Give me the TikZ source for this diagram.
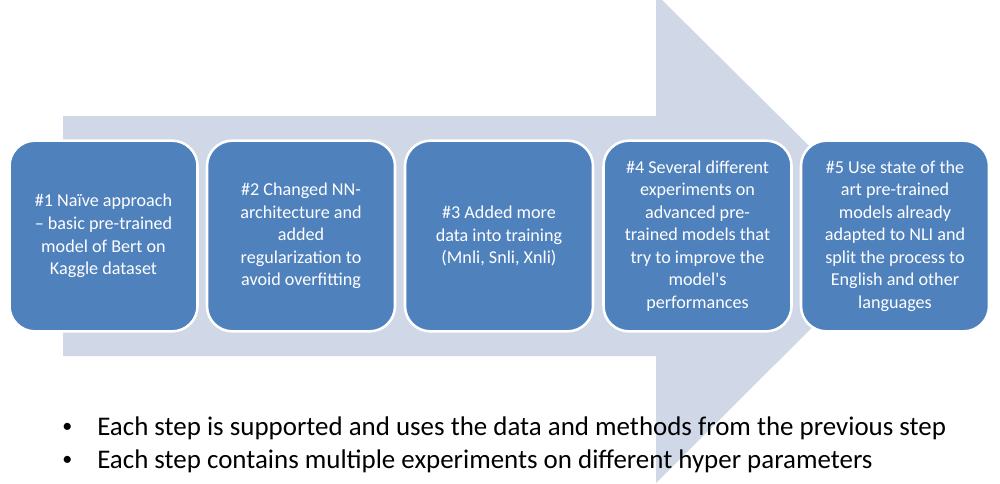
\documentclass[tikz,border=0pt]{standalone}
\usepackage{fontspec}
\setmainfont{Carlito}
\definecolor{arrowfill}{HTML}{D0D8E8}
\definecolor{boxfill}{HTML}{4F81BD}
\tikzset{
  stepbox/.style={draw=white, line width=1.9pt, fill=boxfill, rounded corners=19pt,
    minimum width=141pt, minimum height=143pt, inner sep=2pt, align=center,
    text=white, font=\fontsize{13.6pt}{16.9pt}\selectfont},
  bullettext/.style={anchor=base west, inner sep=0pt, font=\fontsize{20.2pt}{24pt}\selectfont},
  bulletmark/.style={anchor=base west, inner sep=0pt, font=\fontsize{15pt}{18pt}\selectfont}
}
\begin{document}
\begin{tikzpicture}[x=0.75pt,y=-0.75pt]
\useasboundingbox[fill=white] (0,0) rectangle (1000,483);
% background arrow
\fill[arrowfill] (63,116) -- (656,116) -- (656,-6) -- (902,238) -- (656,483) -- (656,356) -- (63,356) -- cycle;
% steps
\node[stepbox] (s1) at (103.5,236) {\#1 Naïve approach\\– basic pre-trained\\model of Bert on\\Kaggle dataset};
\node[stepbox] (s2) at (301,236) {\#2 Changed NN-\\architecture and\\added\\regularization to\\avoid overfitting};
\node[stepbox] (s3) at (499,236) {\#3 Added more\\data into training\\(Mnli, Snli, Xnli)};
\node[stepbox] (s4) at (697.5,236) {\#4 Several different\\experiments on\\advanced pre-\\trained models that\\try to improve the\\model\textquotesingle s\\performances};
\node[stepbox] (s5) at (895,236) {\#5 Use state of the\\art pre-trained\\models already\\adapted to NLI and\\split the process to\\English and other\\languages};
% bullets
\node[bulletmark] (b1) at (62,432) {•};
\node[bullettext] (t1) at (97,435) {Each step is supported and uses the data and methods from the previous step};
\node[bulletmark] (b2) at (62,465) {•};
\node[bullettext] (t2) at (97,468) {Each step contains multiple experiments on different hyper parameters};
\end{tikzpicture}
\end{document}
